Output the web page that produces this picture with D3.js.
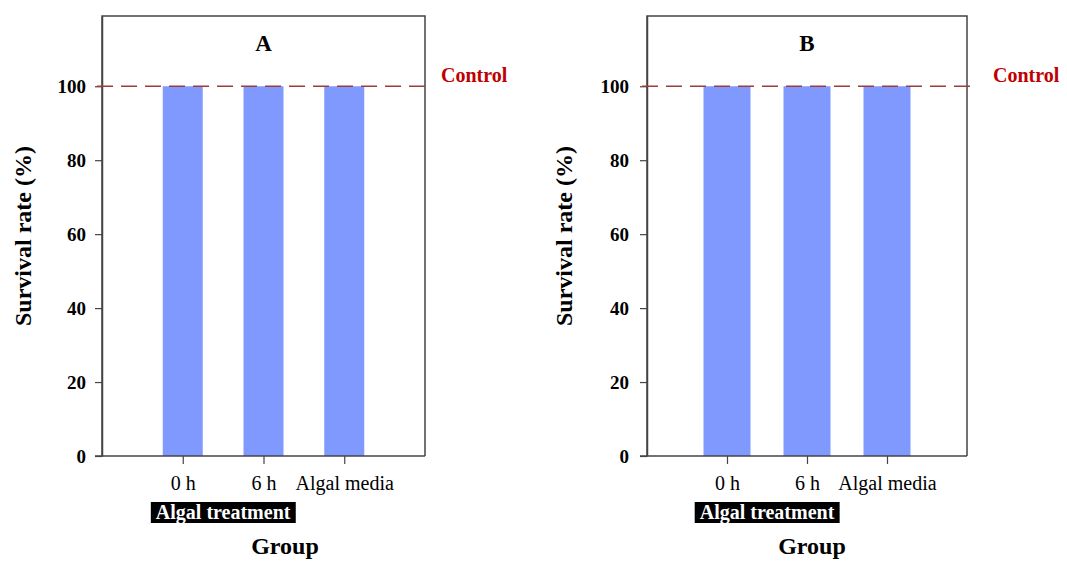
<!DOCTYPE html>
<html>
<head>
<meta charset="utf-8">
<script src="https://cdn.jsdelivr.net/npm/d3@7"></script>
<style>
  body { margin: 0; background: #fff; }
  svg { display: block; font-family: 'Liberation Serif', 'Times New Roman', serif; }
</style>
</head>
<body>
<div id="chart"></div>
<script>
// --- data ---
const categories = ['0 h', '6 h', 'Algal media'];
const survivalA = [100, 100, 100];
const survivalB = [100, 100, 100];
const controlLevel = 100;
const yTicks = [0, 20, 40, 60, 80, 100];
const panelTitles = ['A', 'B'];
const treatmentLabel = 'Algal treatment';

const W = 1067, H = 561;
const svg = d3.select('#chart').append('svg').attr('width', W).attr('height', H);

// layout per panel
const panels = [
  { title: panelTitles[0], values: survivalA, left: 102, right: 425, barW: 40, yLabelX: 23, tickPad: 9, controlDx: 16, groupX: 285 },
  { title: panelTitles[1], values: survivalB, left: 647, right: 967, barW: 47, yLabelX: 564, tickPad: 11, controlDx: 26, groupX: 812 }
];
const plotTop = 16, plotBottom = 456;

panels.forEach(p => {
  const g = svg.append('g');

  const x = d3.scalePoint().domain(categories).range([p.left, p.right]).padding(1);
  const y = d3.scaleLinear().domain([0, 119]).range([plotBottom, plotTop]);

  // bars
  g.selectAll('.bar').data(p.values).enter().append('rect')
    .attr('x', (d, i) => x(categories[i]) - p.barW / 2)
    .attr('y', d => y(d))
    .attr('width', p.barW)
    .attr('height', d => y(0) - y(d))
    .attr('fill', '#7f99ff');

  // frame (top, right)
  g.append('path')
    .attr('d', `M${p.left},${plotBottom}V${plotTop}H${p.right}V${plotBottom}`)
    .attr('fill', 'none').attr('stroke', '#444').attr('stroke-width', 1.5);

  // y axis
  const yAxis = d3.axisLeft(y).tickValues(yTicks).tickSize(7).tickPadding(p.tickPad).tickSizeOuter(0);
  const ya = g.append('g').attr('transform', `translate(${p.left},0)`).call(yAxis);
  ya.select('.domain').attr('stroke', '#444').attr('stroke-width', 1.5);
  ya.selectAll('.tick line').attr('stroke', '#444').attr('stroke-width', 1.2);
  ya.selectAll('text').attr('fill', '#000').style('font-size', '19px').style('font-weight', 'bold')
    .style('font-family', "'Liberation Serif', 'Times New Roman', serif");

  // x axis
  const xAxis = d3.axisBottom(x).tickSize(8).tickPadding(12).tickSizeOuter(0);
  const xa = g.append('g').attr('transform', `translate(0,${plotBottom})`).call(xAxis);
  xa.select('.domain').remove();
  g.append('line').attr('x1', p.left - 7).attr('x2', p.right).attr('y1', plotBottom).attr('y2', plotBottom)
    .attr('stroke', '#444').attr('stroke-width', 1.5);
  xa.selectAll('.tick line').attr('stroke', '#444').attr('stroke-width', 1.2);
  xa.selectAll('text').attr('fill', '#000').style('font-size', '20px')
    .style('font-family', "'Liberation Serif', 'Times New Roman', serif");

  // control line
  g.append('line')
    .attr('x1', p.left - 5).attr('x2', p.right + 3)
    .attr('y1', y(controlLevel)).attr('y2', y(controlLevel))
    .attr('stroke', '#9c3c3c').attr('stroke-width', 1.5).attr('stroke-dasharray', '16,8');
  g.append('text').attr('x', p.right + p.controlDx).attr('y', y(controlLevel) - 4)
    .text('Control').attr('fill', '#c00000').style('font-size', '20px').style('font-weight', 'bold');

  // panel title
  g.append('text').attr('x', (p.left + p.right) / 2).attr('y', 51).attr('text-anchor', 'middle')
    .text(p.title).style('font-size', '23px').style('font-weight', 'bold');

  // y label
  g.append('text').attr('transform', `translate(${p.yLabelX + 8},${236}) rotate(-90)`)
    .attr('text-anchor', 'middle').text('Survival rate (%)')
    .style('font-size', '24px').style('font-weight', 'bold');

  // treatment box
  const mid = (x(categories[0]) + x(categories[1])) / 2;
  const lbl = g.append('text').attr('x', mid).attr('y', 519).attr('text-anchor', 'middle')
    .text(treatmentLabel).attr('fill', '#fff').style('font-size', '20px').style('font-weight', 'bold');
  const bb = lbl.node().getBBox();
  g.insert('rect', () => lbl.node())
    .attr('x', bb.x - 5).attr('y', 502).attr('width', bb.width + 10).attr('height', 21).attr('fill', '#000');

  // group label
  g.append('text').attr('x', p.groupX).attr('y', 554).attr('text-anchor', 'middle')
    .text('Group').style('font-size', '24px').style('font-weight', 'bold');
});
</script>
</body>
</html>
